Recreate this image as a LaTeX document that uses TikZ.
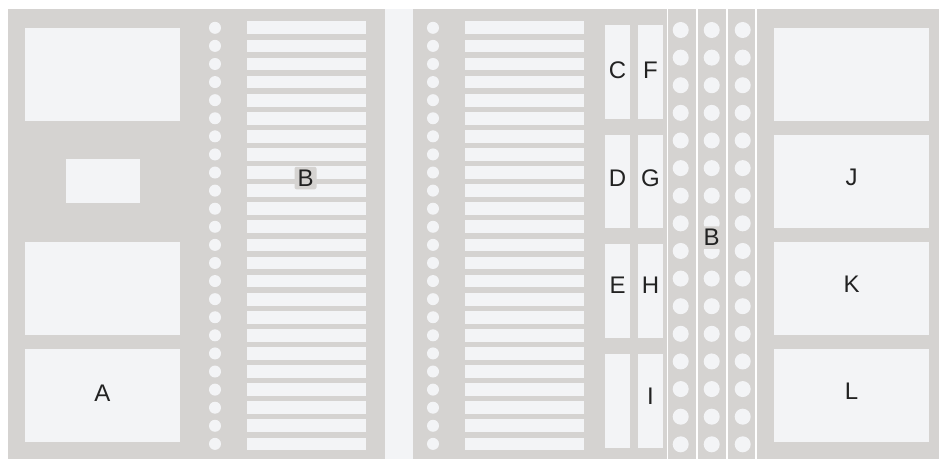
\documentclass[tikz,border=0pt]{standalone}
\usepackage{fontspec}
\setmainfont{Liberation Sans}
\definecolor{panel}{HTML}{D5D3D1}
\definecolor{lite}{HTML}{F3F4F6}
\definecolor{ink}{HTML}{222222}
\newcommand{\lblfont}{\fontsize{24}{28}\selectfont}
\begin{document}
\begin{tikzpicture}[x=1pt,y=-1pt,
  panelbox/.style={fill=panel, draw=none, inner sep=0pt, outer sep=0pt, anchor=north west},
  litebox/.style={fill=lite, draw=none, inner sep=0pt, outer sep=0pt, anchor=north west},
  slatbox/.style={fill=lite, draw=none, inner sep=0pt, outer sep=0pt, anchor=west, minimum width=119pt, minimum height=12.7pt},
  dotsmall/.style={circle, fill=lite, draw=none, inner sep=0pt, minimum size=12pt},
  dotbig/.style={circle, fill=lite, draw=none, inner sep=0pt, minimum size=16pt},
  lbl/.style={text=ink, font=\lblfont, inner sep=0pt},
  lblbg/.style={text=ink, font=\lblfont, fill=panel, inner sep=3pt, rounded corners=2pt},
  sepline/.style={draw=white, line width=1.5pt}]
\useasboundingbox (0,0) rectangle (939,459);
\fill[white] (0,0) rectangle (939,459);
% background and panels
\node[litebox, minimum width=931pt, minimum height=450pt] (bg) at (8,9) {};
\node[panelbox, minimum width=377pt, minimum height=450pt] (leftpanel) at (8,9) {};
\node[panelbox, minimum width=526pt, minimum height=450pt] (rightpanel) at (413,9) {};
% left panel boxes
\node[litebox, minimum width=155pt, minimum height=93pt] (lb1) at (25,28) {};
\node[litebox, minimum width=74pt, minimum height=43.5pt] (lbs) at (66,159) {};
\node[litebox, minimum width=155pt, minimum height=93pt] (lb3) at (25,242) {};
\node[litebox, minimum width=155pt, minimum height=93pt] (lbA) at (25,349) {};
% slats and small dots
\foreach \k in {0,...,23}{
  \pgfmathsetmacro{\yy}{27.8+18.09*\k}
  \node[slatbox] (ls\k) at (247,\yy) {};
  \node[slatbox] (rs\k) at (465,\yy) {};
  \node[dotsmall] (ld\k) at (215,\yy) {};
  \node[dotsmall] (rd\k) at (433,\yy) {};
}
% column boxes
\foreach \t [count=\i] in {25,134.7,244.3,354}{
  \node[litebox, minimum width=25pt, minimum height=93.5pt] (ca\i) at (605,\t) {};
  \node[litebox, minimum width=25pt, minimum height=93.5pt] (cb\i) at (638,\t) {};
}
% separator lines
\foreach \x [count=\i] in {667.7,697,727,756}{
  \coordinate (st\i) at (\x,9);
  \coordinate (sb\i) at (\x,459);
  \draw[sepline] (st\i) -- (sb\i);
}
% big dots
\foreach \x [count=\c] in {680.7,711.7,742.7}{
  \foreach \k in {0,...,15}{
    \pgfmathsetmacro{\yy}{30+27.62*\k}
    \node[dotbig] (bd\c-\k) at (\x,\yy) {};
  }
}
% right boxes
\node[litebox, minimum width=155pt, minimum height=93pt] (rb1) at (774,28) {};
\node[litebox, minimum width=155pt, minimum height=93pt] (rbJ) at (774,135) {};
\node[litebox, minimum width=155pt, minimum height=93pt] (rbK) at (774,242) {};
\node[litebox, minimum width=155pt, minimum height=93pt] (rbL) at (774,349) {};
% labels
\node[lbl] (tA) at (102.5,393.5) {A};
\node[lblbg] (tB1) at (305.5,178) {B};
\node[lblbg] (tB2) at (711.5,237.5) {B};
\node[lbl] (tC) at (617.5,70.7) {C};
\node[lbl] (tF) at (650.5,70.7) {F};
\node[lbl] (tD) at (617.5,178) {D};
\node[lbl] (tG) at (650.5,178) {G};
\node[lbl] (tE) at (617.5,285.5) {E};
\node[lbl] (tH) at (650.5,285.5) {H};
\node[lbl] (tI) at (650.5,396) {I};
\node[lbl] (tJ) at (851.5,177) {J};
\node[lbl] (tK) at (851.5,284) {K};
\node[lbl] (tL) at (851.5,391.5) {L};
\end{tikzpicture}
\end{document}
